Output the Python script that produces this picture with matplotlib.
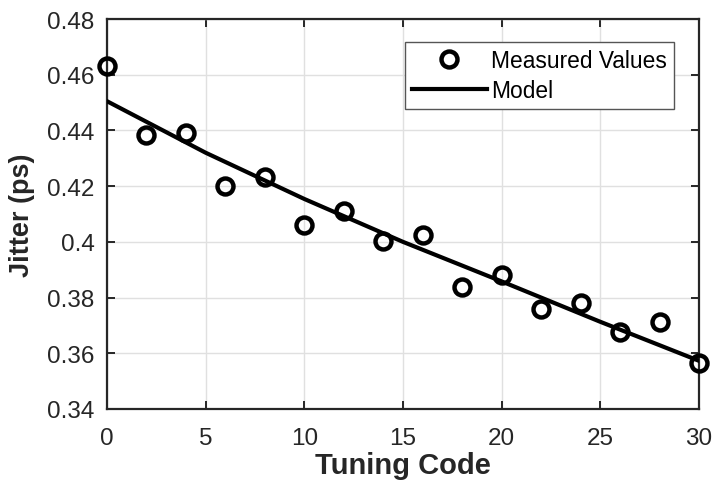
import numpy as np
import matplotlib
matplotlib.use("Agg")
import matplotlib.pyplot as plt
from matplotlib.ticker import FuncFormatter

plt.rcParams['font.family'] = ['Liberation Sans', 'DejaVu Sans']

# measured jitter vs tuning code
code = [0, 2, 4, 6, 8, 10, 12, 14, 16, 18, 20, 22, 24, 26, 28, 30]
jitter = [0.4631, 0.4384, 0.4391, 0.4199, 0.4234, 0.4061, 0.4111, 0.4003,
          0.4025, 0.3839, 0.3881, 0.3760, 0.3779, 0.3677, 0.3713, 0.3565]

# model curve
model_code = [0, 5, 10, 15, 20, 25, 30]
model_jitter = [0.4505, 0.4320, 0.4154, 0.4000, 0.3858, 0.3713, 0.3573]

fig = plt.figure(figsize=(7.12, 4.89), dpi=100)
ax = fig.add_axes([0.1503, 0.1616, 0.8314, 0.7974])

ax.plot(code, jitter, 'o', ls='none', mfc='none', mec='black', ms=11.5, mew=3.2,
        label='Measured Values', zorder=4, clip_on=False)
ax.plot(model_code, model_jitter, '-', color='black', lw=3, label='Model', zorder=3)

ax.set_xlim(0, 30)
ax.set_ylim(0.34, 0.48)
ax.set_xticks(np.arange(0, 31, 5))
ax.set_yticks(np.arange(0.34, 0.481, 0.02))
ax.yaxis.set_major_formatter(FuncFormatter(lambda v, p: '%g' % round(v, 2)))

ax.grid(True, color='#e0e0e0', lw=1)
ax.set_axisbelow(True)
for s in ax.spines.values():
    s.set_color('#262626')
    s.set_linewidth(1.6)
ax.tick_params(direction='in', length=6, width=1.4, color='#262626', top=True, right=True,
               labelsize=17.5, labelcolor='#262626')
ax.tick_params(axis='y', pad=9)
ax.tick_params(axis='x', pad=13)

ax.set_xlabel('Tuning Code', fontsize=21, fontweight='bold', color='#262626')
ax.set_ylabel('Jitter (ps)', fontsize=19.5, fontweight='bold', color='#262626')
ax.xaxis.set_label_coords(0.5, -0.108)
ax.yaxis.set_label_coords(-0.122, 0.5)

leg = ax.legend(loc='upper right', bbox_to_anchor=(0.958, 0.941), borderaxespad=0,
                fontsize=16.4, fancybox=False, framealpha=1, edgecolor='#555555',
                handlelength=3.3, handletextpad=0.2, borderpad=0.3, labelspacing=0.3)
leg.get_frame().set_linewidth(1.0)

fig.savefig('out.png', dpi=100)
